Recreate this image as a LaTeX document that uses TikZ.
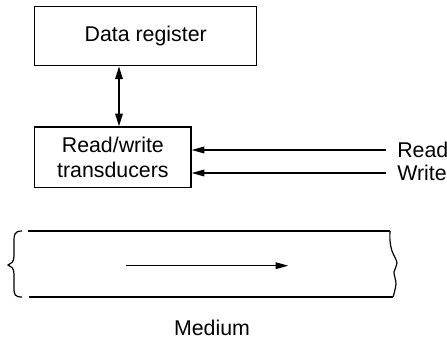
\documentclass[tikz,border=0pt]{standalone}
\usepackage{fontspec}
\setmainfont{Liberation Sans}
\usetikzlibrary{arrows.meta}
\begin{document}
\begin{tikzpicture}[x=0.75pt,y=-0.75pt,
  every node/.style={font=\fontsize{16}{18.8}\selectfont},
  box/.style={draw,line width=1pt,inner sep=0pt,align=center},
  ln/.style={line width=0.9pt},
  arr/.style={ln,-{Triangle[length=9.5pt,width=5pt]}},
  darr/.style={line width=1.3pt,{Triangle[length=9.5pt,width=5.5pt]}-{Triangle[length=9.5pt,width=5.5pt]}}]
\useasboundingbox (0,0) rectangle (447,338);
\node[box,minimum width=166.5pt,minimum height=44.25pt] (dr) at (145.7,36.2) {Data register};
\node[box,minimum width=117.2pt,minimum height=45.5pt] (rw) at (112.85,157.35) {Read/write\\transducers};
\draw[darr] (dr.south -| 119,0) -- (rw.north -| 119,0);
\coordinate (rdin) at (385.7,150);
\coordinate (wrin) at (385.7,173);
\node[anchor=west,inner sep=0pt] (rdl) at (397,150) {Read};
\node[anchor=west,inner sep=0pt] (wrl) at (397,173) {Write};
\draw[arr] (rdin) -- (rdin -| rw.east);
\draw[arr] (wrin) -- (wrin -| rw.east);
% medium
\draw[ln] (28,231) -- (390,231);
\draw[ln] (29,297) -- (393,297);
\draw[ln] (22,231) .. controls (14,231) and (14,235) .. (14,242) -- (14,256)
  .. controls (14,262) and (11,264) .. (8,265)
  .. controls (11,266) and (14,268) .. (14,274) -- (14,288)
  .. controls (14,295) and (15,297) .. (22,297);
\draw[ln] plot[smooth,tension=0.6] coordinates {(390,231) (390,241) (392,251) (397,263) (394,272) (396,284) (393,297)};
\coordinate (ma) at (126,265.7);
\coordinate (mb) at (288.3,265.7);
\draw[arr] (ma) -- (mb);
\node[inner sep=0pt] (med) at (212,327.5) {Medium};
\end{tikzpicture}
\end{document}
